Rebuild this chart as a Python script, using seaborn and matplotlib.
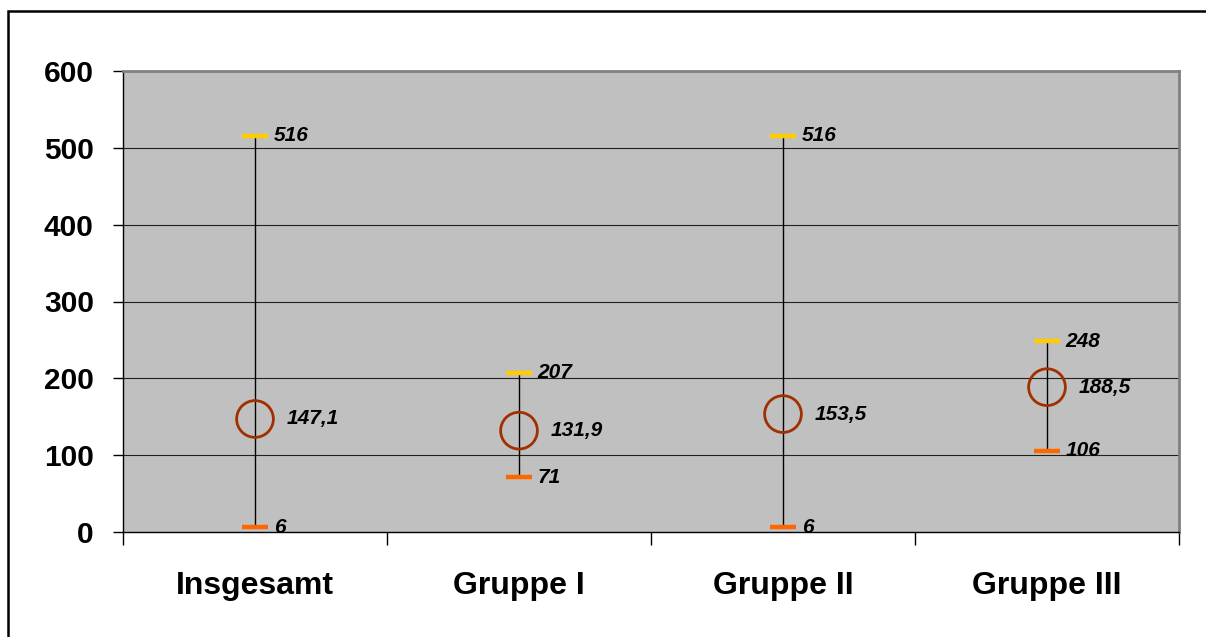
import matplotlib
matplotlib.use("Agg")
import matplotlib.pyplot as plt
import seaborn as sns
import pandas as pd
import numpy as np
from matplotlib.patches import Rectangle

categories = ["Insgesamt", "Gruppe I", "Gruppe II", "Gruppe III"]
high_values = [516, 207, 516, 248]
low_values = [6, 71, 6, 106]
mean_values = [147.1, 131.9, 153.5, 188.5]
y_ticks = [0, 100, 200, 300, 400, 500, 600]

sns.set_theme(style="white")
plt.rcParams['font.family'] = ['Liberation Sans', 'DejaVu Sans']

W, H = 1206, 637
fig = plt.figure(figsize=(W / 100, H / 100), dpi=100)
fig.patch.set_facecolor("white")
ax = fig.add_axes([123 / W, 1 - 532 / H, (1179 - 123) / W, (532 - 71) / H])
ax.set_facecolor("#C0C0C0")

df = pd.DataFrame({"cat": categories, "x": np.arange(len(categories)),
                   "high": high_values, "low": low_values, "mean": mean_values})

# gridlines
for v in y_ticks[1:-1]:
    ax.axhline(v, color="#202020", lw=0.8, zorder=1)

# high-low lines
ax.vlines(df["x"], df["low"], df["high"], color="black", lw=1.0, zorder=2)

sns.scatterplot(data=df, x="x", y="high", marker="_", s=330, color="#FFCC00",
                linewidth=3.2, ax=ax, zorder=3, legend=False)
sns.scatterplot(data=df, x="x", y="low", marker="_", s=330, color="#FF6600",
                linewidth=3.2, ax=ax, zorder=3, legend=False)
sns.scatterplot(data=df, x="x", y="mean", marker="o", s=700, facecolors="none",
                edgecolor="#A03000", linewidth=2.0, ax=ax, zorder=4, legend=False)

lab_kw = dict(fontsize=15, fontstyle="italic", fontweight="bold", color="black",
              va="center", ha="left", textcoords="offset points", zorder=5)
for i, r in df.iterrows():
    ax.annotate(f"{r['high']:g}", (r["x"], r["high"]), xytext=(13.5, 0), **lab_kw)
    ax.annotate(f"{r['low']:g}", (r["x"], r["low"]), xytext=(13.5, 0), **lab_kw)
    ax.annotate(f"{r['mean']:.1f}".replace(".", ","), (r["x"], r["mean"]),
                xytext=(22.5, 0), **lab_kw)

ax.set_xlim(-0.5, len(categories) - 0.5)
ax.set_ylim(0, 600)
ax.set_yticks(y_ticks)
ax.set_yticklabels([str(v) for v in y_ticks], fontsize=21.5, fontweight="bold", color="black")
ax.set_xticks(df["x"])
ax.set_xticklabels(categories, fontsize=23, fontweight="bold", color="black")
ax.set_xticks(np.arange(-0.5, len(categories)), minor=True)
ax.tick_params(axis="x", which="major", bottom=True, length=0, pad=28, labelcolor="black")
ax.tick_params(axis="x", which="minor", bottom=True, length=9, width=1, color="black",
               direction="out")
ax.tick_params(axis="y", which="major", left=True, length=7.5, width=1, color="black",
               direction="out", pad=13.5, labelcolor="black")
ax.set_xlabel("")
ax.set_ylabel("")

for s in ["top", "right"]:
    ax.spines[s].set_color("#808080")
    ax.spines[s].set_linewidth(2)
for s in ["left", "bottom"]:
    ax.spines[s].set_color("black")
    ax.spines[s].set_linewidth(1)
for s in ax.spines.values():
    s.set_visible(True)

# outer chart border
fig.patches.append(Rectangle((7.5 / W, -0.05), 1.1, 1 - 10.5 / H + 0.05,
                             transform=fig.transFigure, fill=False,
                             edgecolor="black", lw=1.8))

fig.savefig("out.png", dpi=100)
